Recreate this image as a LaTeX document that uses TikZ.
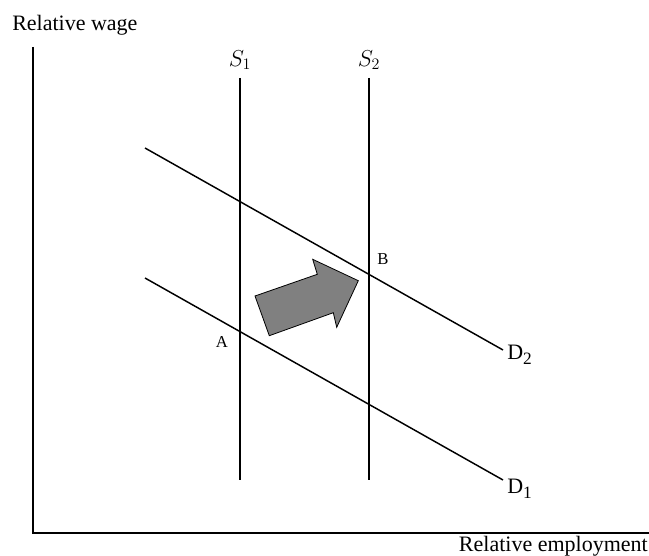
\documentclass[tikz,border=0pt]{standalone}
\usepackage{fontspec}
\setmainfont{Liberation Serif}
\begin{document}
\begin{tikzpicture}[x=0.75pt,y=-0.75pt,
  curve/.style={line width=1.1pt,black},
  axis/.style={line width=1.1pt,black},
  lbl/.style={inner sep=0pt,font=\fontsize{16.5}{18}\selectfont},
  small/.style={inner sep=0pt,font=\fontsize{12.5}{14}\selectfont}]
\useasboundingbox (0,0) rectangle (649,556);
% axes
\coordinate (O) at (33,533);
\coordinate (Ytop) at (33,47);
\coordinate (Xend) at (649,533);
\draw[axis] (Ytop) -- (O) -- (Xend);
\node[lbl,anchor=west] (yl) at (12,25) {Relative wage};
\node[lbl,anchor=east] (xl) at (648,546) {Relative employment};
% supply
\coordinate (s1t) at (240,78); \coordinate (s1b) at (240,480);
\coordinate (s2t) at (369,78); \coordinate (s2b) at (369,480);
\draw[curve] (s1t) -- (s1b);
\draw[curve] (s2t) -- (s2b);
\node[lbl] (S1) at (240,60) {$S_1$};
\node[lbl] (S2) at (369,60) {$S_2$};
% demand
\coordinate (d2a) at (145,148); \coordinate (d2b) at (503,350);
\coordinate (d1a) at (145,278); \coordinate (d1b) at (503,480);
\draw[curve] (d2a) -- (d2b);
\draw[curve] (d1a) -- (d1b);
\node[lbl,anchor=west] (D2) at (507,355) {D\raisebox{-3.5pt}{\fontsize{13}{14}\selectfont 2}};
\node[lbl,anchor=west] (D1) at (507,489) {D\raisebox{-3.5pt}{\fontsize{13}{14}\selectfont 1}};
\node[small] (A) at (222,342) {A};
\node[small] (B) at (383,259) {B};
% shift arrow
\draw[fill=gray,line width=0.6pt]
  (255,296) -- (317.3,274.3) -- (312.7,259.3) -- (358.3,280.7)
  -- (336.7,327.3) -- (333.3,312.7) -- (269.3,335.7) -- cycle;
\end{tikzpicture}
\end{document}
